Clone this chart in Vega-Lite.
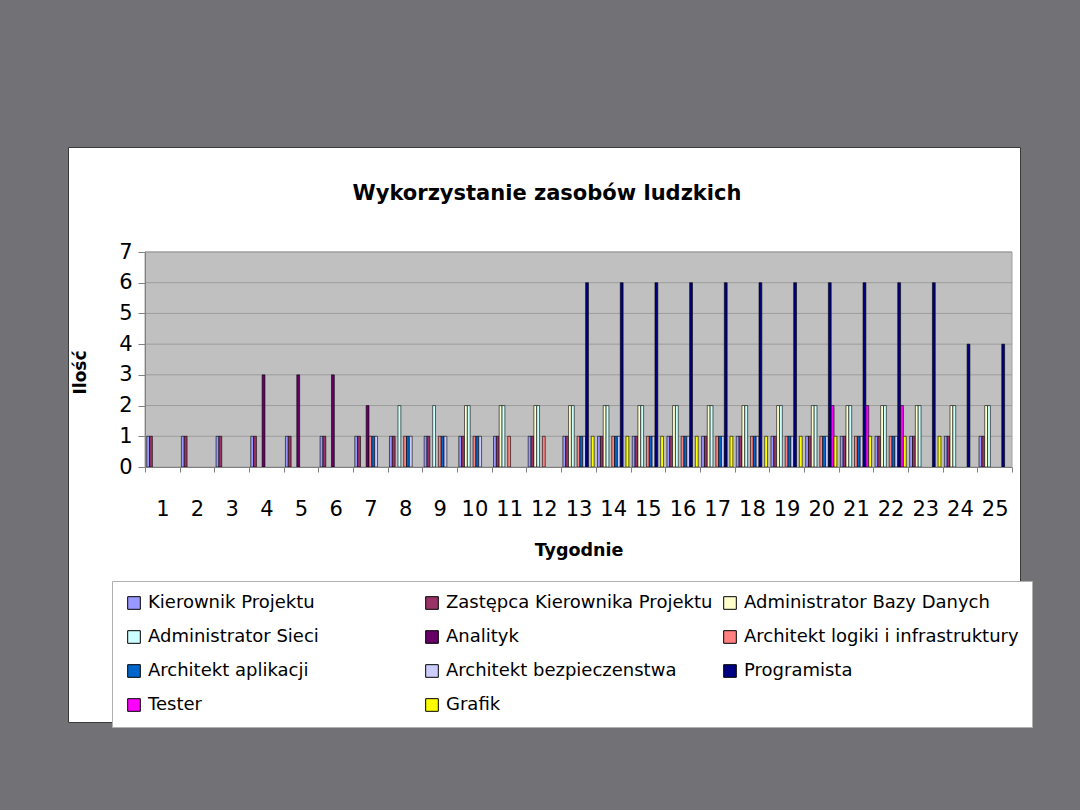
{
"$schema": "https://vega.github.io/schema/vega-lite/v6.json",
"width": 952,
"height": 575,
"autosize": {"type": "none"},
"padding": {"left": 68, "top": 147, "right": 60, "bottom": 88},
"background": "#727176",
"title": {"text": "Wykorzystanie zasobów ludzkich", "font": "DejaVu Sans", "fontSize": 21, "fontWeight": "bold", "color": "black", "anchor": "middle", "offset": -57, "dx": 3},
"config": {"view": {"fill": "white", "stroke": "#3a3a3a", "strokeWidth": 1}, "font": "DejaVu Sans"},
"layer": [
{
"data": {"values": [{}]},
"mark": {"type": "rect", "fill": "#c0c0c0", "stroke": "#a0a0a0", "strokeWidth": 1},
"encoding": {
"x": {"datum": 1, "type": "ordinal", "bandPosition": 0},
"x2": {"datum": 25, "bandPosition": 1},
"y": {"datum": 0, "type": "quantitative"},
"y2": {"datum": 7}
}
},
{
"data": {"values": [{"g": 1}, {"g": 2}, {"g": 3}, {"g": 4}, {"g": 5}, {"g": 6}, {"g": 7}]},
"mark": {"type": "rule", "color": "#9c9c9c", "strokeWidth": 1},
"encoding": {
"x": {"datum": 1, "type": "ordinal", "bandPosition": 0},
"x2": {"datum": 25, "bandPosition": 1},
"y": {"field": "g", "type": "quantitative"}
}
},
{
"data": {"values": [
{"w":1,"r":"Kierownik Projektu","v":1},{"w":1,"r":"Zastępca Kierownika Projektu","v":1},
{"w":2,"r":"Kierownik Projektu","v":1},{"w":2,"r":"Zastępca Kierownika Projektu","v":1},
{"w":3,"r":"Kierownik Projektu","v":1},{"w":3,"r":"Zastępca Kierownika Projektu","v":1},
{"w":4,"r":"Kierownik Projektu","v":1},{"w":4,"r":"Zastępca Kierownika Projektu","v":1},{"w":4,"r":"Analityk","v":3},
{"w":5,"r":"Kierownik Projektu","v":1},{"w":5,"r":"Zastępca Kierownika Projektu","v":1},{"w":5,"r":"Analityk","v":3},
{"w":6,"r":"Kierownik Projektu","v":1},{"w":6,"r":"Zastępca Kierownika Projektu","v":1},{"w":6,"r":"Analityk","v":3},
{"w":7,"r":"Kierownik Projektu","v":1},{"w":7,"r":"Zastępca Kierownika Projektu","v":1},{"w":7,"r":"Analityk","v":2},{"w":7,"r":"Architekt logiki i infrastruktury","v":1},{"w":7,"r":"Architekt aplikacji","v":1},{"w":7,"r":"Architekt bezpieczenstwa","v":1},
{"w":8,"r":"Kierownik Projektu","v":1},{"w":8,"r":"Zastępca Kierownika Projektu","v":1},{"w":8,"r":"Administrator Sieci","v":2},{"w":8,"r":"Architekt logiki i infrastruktury","v":1},{"w":8,"r":"Architekt aplikacji","v":1},{"w":8,"r":"Architekt bezpieczenstwa","v":1},
{"w":9,"r":"Kierownik Projektu","v":1},{"w":9,"r":"Zastępca Kierownika Projektu","v":1},{"w":9,"r":"Administrator Sieci","v":2},{"w":9,"r":"Architekt logiki i infrastruktury","v":1},{"w":9,"r":"Architekt aplikacji","v":1},{"w":9,"r":"Architekt bezpieczenstwa","v":1},
{"w":10,"r":"Kierownik Projektu","v":1},{"w":10,"r":"Zastępca Kierownika Projektu","v":1},{"w":10,"r":"Administrator Bazy Danych","v":2},{"w":10,"r":"Administrator Sieci","v":2},{"w":10,"r":"Architekt logiki i infrastruktury","v":1},{"w":10,"r":"Architekt aplikacji","v":1},{"w":10,"r":"Architekt bezpieczenstwa","v":1},
{"w":11,"r":"Kierownik Projektu","v":1},{"w":11,"r":"Zastępca Kierownika Projektu","v":1},{"w":11,"r":"Administrator Bazy Danych","v":2},{"w":11,"r":"Administrator Sieci","v":2},{"w":11,"r":"Architekt logiki i infrastruktury","v":1},
{"w":12,"r":"Kierownik Projektu","v":1},{"w":12,"r":"Zastępca Kierownika Projektu","v":1},{"w":12,"r":"Administrator Bazy Danych","v":2},{"w":12,"r":"Administrator Sieci","v":2},{"w":12,"r":"Architekt logiki i infrastruktury","v":1},
{"w":13,"r":"Kierownik Projektu","v":1},{"w":13,"r":"Zastępca Kierownika Projektu","v":1},{"w":13,"r":"Administrator Bazy Danych","v":2},{"w":13,"r":"Administrator Sieci","v":2},{"w":13,"r":"Architekt logiki i infrastruktury","v":1},{"w":13,"r":"Architekt aplikacji","v":1},{"w":13,"r":"Architekt bezpieczenstwa","v":1},{"w":13,"r":"Programista","v":6},{"w":13,"r":"Grafik","v":1},
{"w":14,"r":"Kierownik Projektu","v":1},{"w":14,"r":"Zastępca Kierownika Projektu","v":1},{"w":14,"r":"Administrator Bazy Danych","v":2},{"w":14,"r":"Administrator Sieci","v":2},{"w":14,"r":"Architekt logiki i infrastruktury","v":1},{"w":14,"r":"Architekt aplikacji","v":1},{"w":14,"r":"Architekt bezpieczenstwa","v":1},{"w":14,"r":"Programista","v":6},{"w":14,"r":"Grafik","v":1},
{"w":15,"r":"Kierownik Projektu","v":1},{"w":15,"r":"Zastępca Kierownika Projektu","v":1},{"w":15,"r":"Administrator Bazy Danych","v":2},{"w":15,"r":"Administrator Sieci","v":2},{"w":15,"r":"Architekt logiki i infrastruktury","v":1},{"w":15,"r":"Architekt aplikacji","v":1},{"w":15,"r":"Architekt bezpieczenstwa","v":1},{"w":15,"r":"Programista","v":6},{"w":15,"r":"Grafik","v":1},
{"w":16,"r":"Kierownik Projektu","v":1},{"w":16,"r":"Zastępca Kierownika Projektu","v":1},{"w":16,"r":"Administrator Bazy Danych","v":2},{"w":16,"r":"Administrator Sieci","v":2},{"w":16,"r":"Architekt logiki i infrastruktury","v":1},{"w":16,"r":"Architekt aplikacji","v":1},{"w":16,"r":"Architekt bezpieczenstwa","v":1},{"w":16,"r":"Programista","v":6},{"w":16,"r":"Grafik","v":1},
{"w":17,"r":"Kierownik Projektu","v":1},{"w":17,"r":"Zastępca Kierownika Projektu","v":1},{"w":17,"r":"Administrator Bazy Danych","v":2},{"w":17,"r":"Administrator Sieci","v":2},{"w":17,"r":"Architekt logiki i infrastruktury","v":1},{"w":17,"r":"Architekt aplikacji","v":1},{"w":17,"r":"Architekt bezpieczenstwa","v":1},{"w":17,"r":"Programista","v":6},{"w":17,"r":"Grafik","v":1},
{"w":18,"r":"Kierownik Projektu","v":1},{"w":18,"r":"Zastępca Kierownika Projektu","v":1},{"w":18,"r":"Administrator Bazy Danych","v":2},{"w":18,"r":"Administrator Sieci","v":2},{"w":18,"r":"Architekt logiki i infrastruktury","v":1},{"w":18,"r":"Architekt aplikacji","v":1},{"w":18,"r":"Architekt bezpieczenstwa","v":1},{"w":18,"r":"Programista","v":6},{"w":18,"r":"Grafik","v":1},
{"w":19,"r":"Kierownik Projektu","v":1},{"w":19,"r":"Zastępca Kierownika Projektu","v":1},{"w":19,"r":"Administrator Bazy Danych","v":2},{"w":19,"r":"Administrator Sieci","v":2},{"w":19,"r":"Architekt logiki i infrastruktury","v":1},{"w":19,"r":"Architekt aplikacji","v":1},{"w":19,"r":"Architekt bezpieczenstwa","v":1},{"w":19,"r":"Programista","v":6},{"w":19,"r":"Grafik","v":1},
{"w":20,"r":"Kierownik Projektu","v":1},{"w":20,"r":"Zastępca Kierownika Projektu","v":1},{"w":20,"r":"Administrator Bazy Danych","v":2},{"w":20,"r":"Administrator Sieci","v":2},{"w":20,"r":"Architekt logiki i infrastruktury","v":1},{"w":20,"r":"Architekt aplikacji","v":1},{"w":20,"r":"Architekt bezpieczenstwa","v":1},{"w":20,"r":"Programista","v":6},{"w":20,"r":"Tester","v":2},{"w":20,"r":"Grafik","v":1},
{"w":21,"r":"Kierownik Projektu","v":1},{"w":21,"r":"Zastępca Kierownika Projektu","v":1},{"w":21,"r":"Administrator Bazy Danych","v":2},{"w":21,"r":"Administrator Sieci","v":2},{"w":21,"r":"Architekt logiki i infrastruktury","v":1},{"w":21,"r":"Architekt aplikacji","v":1},{"w":21,"r":"Architekt bezpieczenstwa","v":1},{"w":21,"r":"Programista","v":6},{"w":21,"r":"Tester","v":2},{"w":21,"r":"Grafik","v":1},
{"w":22,"r":"Kierownik Projektu","v":1},{"w":22,"r":"Zastępca Kierownika Projektu","v":1},{"w":22,"r":"Administrator Bazy Danych","v":2},{"w":22,"r":"Administrator Sieci","v":2},{"w":22,"r":"Architekt logiki i infrastruktury","v":1},{"w":22,"r":"Architekt aplikacji","v":1},{"w":22,"r":"Architekt bezpieczenstwa","v":1},{"w":22,"r":"Programista","v":6},{"w":22,"r":"Tester","v":2},{"w":22,"r":"Grafik","v":1},
{"w":23,"r":"Kierownik Projektu","v":1},{"w":23,"r":"Zastępca Kierownika Projektu","v":1},{"w":23,"r":"Administrator Bazy Danych","v":2},{"w":23,"r":"Administrator Sieci","v":2},{"w":23,"r":"Programista","v":6},{"w":23,"r":"Grafik","v":1},
{"w":24,"r":"Kierownik Projektu","v":1},{"w":24,"r":"Zastępca Kierownika Projektu","v":1},{"w":24,"r":"Administrator Bazy Danych","v":2},{"w":24,"r":"Administrator Sieci","v":2},{"w":24,"r":"Programista","v":4},
{"w":25,"r":"Kierownik Projektu","v":1},{"w":25,"r":"Zastępca Kierownika Projektu","v":1},{"w":25,"r":"Administrator Bazy Danych","v":2},{"w":25,"r":"Administrator Sieci","v":2},{"w":25,"r":"Programista","v":4}
]},
"mark": {"type": "bar", "stroke": "black", "strokeWidth": 0.6},
"encoding": {
"x": {"field": "w", "type": "ordinal", "sort": "ascending",
 "scale": {"type": "band", "range": [77, 944], "paddingInner": 0, "paddingOuter": 0},
 "axis": {"orient": "bottom", "offset": -255, "labelAngle": 0, "labelAlign": "center", "labelFontSize": 21, "labelFont": "DejaVu Sans", "labelColor": "black", "labelPadding": 37, "tickSize": 5, "tickBand": "extent", "domainColor": "#808080", "tickColor": "#808080", "grid": false, "title": "Tygodnie", "titleFont": "DejaVu Sans", "titleFontSize": 17.5, "titleFontWeight": "bold", "titleColor": "black", "titleY": 88, "titleBaseline": "alphabetic", "zindex": 1}},
"xOffset": {"field": "r", "type": "nominal",
 "scale": {"domain": ["Kierownik Projektu","Zastępca Kierownika Projektu","Administrator Bazy Danych","Administrator Sieci","Analityk","Architekt logiki i infrastruktury","Architekt aplikacji","Architekt bezpieczenstwa","Programista","Tester","Grafik"], "paddingInner": 0, "paddingOuter": 0.6}},
"y": {"field": "v", "type": "quantitative",
 "scale": {"domain": [0, 7], "range": [320, 105], "nice": false, "zero": true},
 "axis": {"orient": "left", "offset": -77, "values": [0,1,2,3,4,5,6,7], "format": "d", "grid": false, "domainColor": "#808080", "tickColor": "#808080", "tickSize": 7, "labelPadding": 6, "labelFontSize": 21, "labelFont": "DejaVu Sans", "labelColor": "black", "title": "Ilość", "titleFont": "DejaVu Sans", "titleFontSize": 17, "titleFontWeight": "bold", "titleColor": "black", "titleX": -65, "titleY": 225, "titleAngle": 270, "titleAlign": "center", "titleBaseline": "middle", "zindex": 1}},
"color": {"field": "r", "type": "nominal",
 "scale": {"domain": ["Kierownik Projektu","Zastępca Kierownika Projektu","Administrator Bazy Danych","Administrator Sieci","Analityk","Architekt logiki i infrastruktury","Architekt aplikacji","Architekt bezpieczenstwa","Programista","Tester","Grafik"],
  "range": ["#9999ff","#993366","#ffffcc","#ccffff","#660066","#ff8080","#0066cc","#ccccff","#000080","#ff00ff","#ffff00"]},
 "legend": {"orient": "none", "legendX": 44, "legendY": 434, "columns": 3, "direction": "horizontal", "title": null, "symbolType": "square", "symbolSize": 160, "symbolStrokeColor": "black", "symbolStrokeWidth": 1, "symbolOpacity": 1, "labelFontSize": 18, "labelFont": "DejaVu Sans", "labelColor": "black", "labelLimit": 400, "labelOffset": 5, "rowPadding": 16, "columnPadding": 0, "gridAlign": "all", "padding": 13, "fillColor": "white", "strokeColor": "#b0b0b0"}}
}
}
]
}
